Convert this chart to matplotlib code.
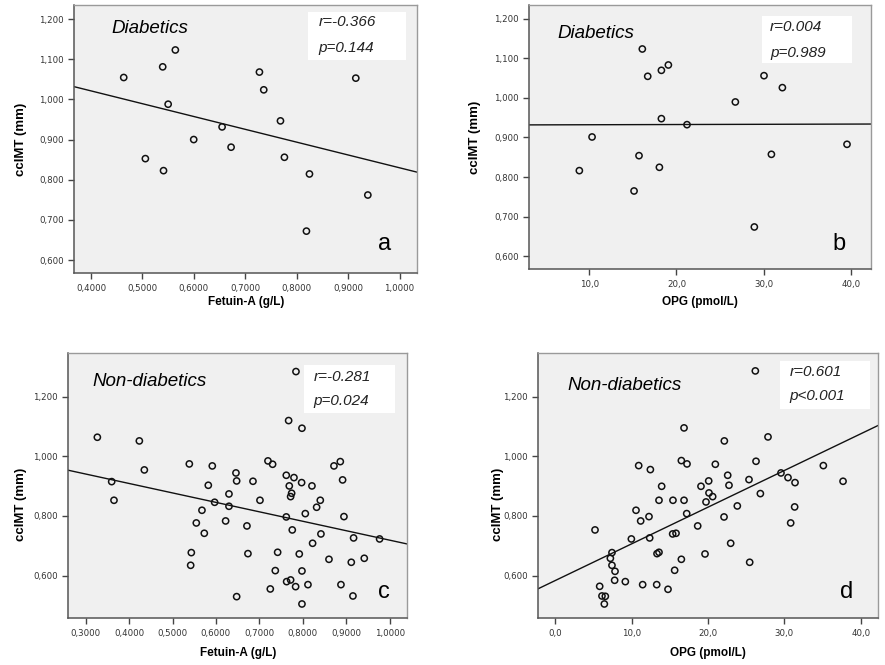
import numpy as np
import matplotlib
matplotlib.use("Agg")
import matplotlib.pyplot as plt
from matplotlib.ticker import FuncFormatter
from matplotlib.patches import Rectangle

# ---------------- data ----------------
# Panel a: Diabetics, Fetuin-A vs ccIMT
fet_dm = [0.4636, 0.5394, 0.5640, 0.5500, 0.5057, 0.5410, 0.5997, 0.6549, 0.6724,
          0.7275, 0.7359, 0.7684, 0.7761, 0.8248, 0.8189, 0.9149, 0.9383]
imt_dm_a = [1.0545, 1.0810, 1.1230, 0.9880, 0.8525, 0.8226, 0.9000, 0.9315, 0.8810,
            1.0680, 1.0238, 0.9465, 0.8559, 0.8143, 0.6720, 1.0529, 0.7619]

# Panel b: Diabetics, OPG vs ccIMT
opg_dm = [16.08, 19.07, 18.27, 16.70, 30.05, 32.16, 26.76, 18.27, 21.21,
          10.31, 39.58, 15.70, 30.90, 8.85, 18.04, 15.13, 28.94]
imt_dm_b = [1.1234, 1.0830, 1.0695, 1.0544, 1.0560, 1.0258, 0.9896, 0.9475, 0.9323,
            0.9012, 0.8827, 0.8540, 0.8574, 0.8162, 0.8246, 0.7648, 0.6739]

# Panel c: Non-diabetics, Fetuin-A vs ccIMT
fet_nd = [0.3269, 0.3599, 0.3652, 0.4236, 0.4351, 0.5387, 0.5433, 0.5418, 0.5916, 0.5824,
          0.5970, 0.5678, 0.5548, 0.5732, 0.6223, 0.6300, 0.6300, 0.6461, 0.6477, 0.6477,
          0.6714, 0.6737, 0.6853, 0.7014, 0.7198, 0.7305, 0.7252, 0.7367, 0.7421, 0.7620,
          0.7797, 0.7689, 0.7743, 0.7720, 0.7620, 0.7758, 0.7674, 0.7981, 0.7843, 0.7973,
          0.8211, 0.8058, 0.8319, 0.8403, 0.8418, 0.8226, 0.7919, 0.7981, 0.7628, 0.7720,
          0.7835, 0.8119, 0.7981, 0.8603, 0.8718, 0.8864, 0.8917, 0.8948, 0.9170, 0.9117,
          0.9416, 0.8879, 0.9155, 0.9769]
imt_nd_c = [1.0637, 0.9150, 0.8525, 1.0514, 0.9542, 0.9743, 0.6771, 0.6346, 0.9676, 0.9028,
            0.8458, 0.8190, 0.7765, 0.7419, 0.7832, 0.8737, 0.8324, 0.9441, 0.9173, 0.5296,
            0.7665, 0.6737, 0.9162, 0.8525, 0.9844, 0.9732, 0.5553, 0.6168, 0.6782, 0.9363,
            0.9285, 0.9006, 0.8760, 0.8648, 0.7967, 0.7531, 1.1196, 1.0939, 1.2838, 0.9117,
            0.9006, 0.8078, 0.8291, 0.8525, 0.7397, 0.7084, 0.6726, 0.6156, 0.5799, 0.5855,
            0.5631, 0.5698, 0.5050, 0.6547, 0.9676, 0.9821, 0.9207, 0.7978, 0.7263, 0.6447,
            0.6581, 0.5698, 0.5318, 0.7229]

# Panel d: Non-diabetics, OPG vs ccIMT
opg_nd = [26.20, 16.86, 22.14, 27.86, 16.51, 17.25, 10.92, 12.45, 20.96, 26.29,
          35.11, 37.69, 29.56, 30.48, 31.40, 25.37, 22.58, 22.75, 20.09, 19.08,
          13.93, 20.13, 20.61, 19.74, 16.86, 15.41, 13.58, 10.57, 11.18, 12.27,
          17.21, 23.84, 26.86, 31.35, 30.83, 22.10, 18.65, 5.20, 9.96, 12.36,
          15.37, 15.81, 7.42, 7.21, 7.42, 7.82, 7.77, 9.17, 5.81, 6.11,
          6.55, 6.42, 11.44, 13.28, 14.76, 13.58, 13.32, 15.63, 16.51, 19.61,
          22.97, 25.46]
imt_nd_d = [1.2860, 1.0950, 1.0514, 1.0648, 0.9855, 0.9743, 0.9687, 0.9553, 0.9732, 0.9832,
            0.9687, 0.9162, 0.9441, 0.9285, 0.9117, 0.9218, 0.9363, 0.9028, 0.9173, 0.8994,
            0.8994, 0.8771, 0.8648, 0.8469, 0.8525, 0.8525, 0.8525, 0.8190, 0.7832, 0.7978,
            0.8078, 0.8335, 0.8749, 0.8302, 0.7765, 0.7966, 0.7665, 0.7531, 0.7229, 0.7263,
            0.7397, 0.7419, 0.6771, 0.6581, 0.6346, 0.6145, 0.5844, 0.5799, 0.5642, 0.5318,
            0.5307, 0.5050, 0.5698, 0.5698, 0.5542, 0.6782, 0.6737, 0.6179, 0.6547, 0.6726,
            0.7084, 0.6447]

group_titles = ["Diabetics", "Diabetics", "Non-diabetics", "Non-diabetics"]
stats_r = ["r=-0.366", "r=0.004", "r=-0.281", "r=0.601"]
stats_p = ["p=0.144", "p=0.989", "p=0.024", "p<0.001"]
panel_letters = ["a", "b", "c", "d"]
x_labels = ["Fetuin-A (g/L)", "OPG (pmol/L)", "Fetuin-A (g/L)", "OPG (pmol/L)"]
y_label = "ccIMT (mm)"

xticks_fet_a = [0.4, 0.5, 0.6, 0.7, 0.8, 0.9, 1.0]
xticks_fet_c = [0.3, 0.4, 0.5, 0.6, 0.7, 0.8, 0.9, 1.0]
xticks_opg_b = [10, 20, 30, 40]
xticks_opg_d = [0, 10, 20, 30, 40]
yticks_dm = [0.6, 0.7, 0.8, 0.9, 1.0, 1.1, 1.2]
yticks_nd = [0.6, 0.8, 1.0, 1.2]

# ---------------- figure ----------------
W, H = 885, 665
fig = plt.figure(figsize=(W / 100, H / 100), dpi=100)
fig.patch.set_facecolor("white")

def frac_rect(l, t, r, b):
    return [l / W, 1 - b / H, (r - l) / W, (b - t) / H]

rects = [frac_rect(74.3, 5, 417.3, 273.3),
         frac_rect(529, 5, 870.7, 269.3),
         frac_rect(68.3, 353.3, 407.3, 618.3),
         frac_rect(538.3, 353.3, 877.7, 618.3)]

panels = [
    (fet_dm, imt_dm_a, (0.3675, 1.0345), (0.567, 1.235), xticks_fet_a, yticks_dm, "{:.4f}", "{:.3f}"),
    (opg_dm, imt_dm_b, (3.07, 42.3), (0.567, 1.2345), xticks_opg_b, yticks_dm, "{:.1f}", "{:.3f}"),
    (fet_nd, imt_nd_c, (0.26, 1.0407), (0.457, 1.345), xticks_fet_c, yticks_nd, "{:.4f}", "{:.3f}"),
    (opg_nd, imt_nd_d, (-2.23, 42.23), (0.457, 1.345), xticks_opg_d, yticks_nd, "{:.1f}", "{:.3f}"),
]

# text positions (axes fraction)
title_pos = [(0.107, 0.914), (0.082, 0.893), (0.071, 0.893), (0.085, 0.877)]
box_pos = [(0.682, 0.795, 0.968, 0.974), (0.682, 0.781, 0.945, 0.958),
           (0.695, 0.775, 0.964, 0.956), (0.712, 0.790, 0.977, 0.971)]
r_pos = [(0.712, 0.938), (0.705, 0.916), (0.723, 0.912), (0.741, 0.931)]
p_pos = [(0.712, 0.841), (0.705, 0.819), (0.723, 0.821), (0.741, 0.840)]
letter_pos = [(0.904, 0.087), (0.907, 0.073), (0.93, 0.077), (0.907, 0.077)]
ylabel_pos = [(-0.138, 0.5), (-0.141, 0.5), (-0.121, 0.43), (-0.101, 0.43)]
xlabel_pad = [2.5, 5.5, 7, 7]

SANS = ["Liberation Sans", "DejaVu Sans"]

for i, (rect, (xs, ys, xl, yl, xt, yt, xfmt, yfmt)) in enumerate(zip(rects, panels)):
    ax = fig.add_axes(rect)
    ax.set_facecolor("#f0f0f0")
    x = np.asarray(xs)
    y = np.asarray(ys)
    ax.scatter(x, y, s=20, facecolors="none", edgecolors="#111111", linewidths=1.1, zorder=3)
    slope, intercept = np.polyfit(x, y, 1)
    xx = np.array(xl)
    ax.plot(xx, intercept + slope * xx, color="#111111", lw=1.0, zorder=2)
    ax.set_xlim(*xl)
    ax.set_ylim(*yl)
    ax.set_xticks(xt)
    ax.set_yticks(yt)
    ax.xaxis.set_major_formatter(FuncFormatter(lambda v, p, f=xfmt: f.format(v).replace(".", ",")))
    ax.yaxis.set_major_formatter(FuncFormatter(lambda v, p, f=yfmt: f.format(v).replace(".", ",")))
    ax.tick_params(axis="both", direction="out", length=4.5, width=1.0, color="#444444",
                   labelsize=6.2, labelcolor="#333333", pad=3)
    for lab in ax.get_xticklabels() + ax.get_yticklabels():
        lab.set_family(["DejaVu Sans"])
    for side in ["left", "bottom"]:
        ax.spines[side].set_color("#555555")
        ax.spines[side].set_linewidth(1.1)
    for side in ["top", "right"]:
        ax.spines[side].set_color("#9a9a9a")
        ax.spines[side].set_linewidth(1.0)

    ax.set_xlabel(x_labels[i], fontsize=8.5, fontweight="bold", family=SANS, labelpad=xlabel_pad[i])
    ax.set_ylabel(y_label, fontsize=9.5, fontweight="bold", family=SANS)
    ax.yaxis.set_label_coords(*ylabel_pos[i])

    ax.text(title_pos[i][0], title_pos[i][1], group_titles[i], transform=ax.transAxes,
            fontsize=13.5, style="italic", family=SANS, ha="left", va="center", zorder=5)
    bx0, by0, bx1, by1 = box_pos[i]
    ax.add_patch(Rectangle((bx0, by0), bx1 - bx0, by1 - by0, transform=ax.transAxes,
                           facecolor="white", edgecolor="none", zorder=4))
    ax.text(r_pos[i][0], r_pos[i][1], stats_r[i], transform=ax.transAxes, fontsize=11,
            style="italic", family=SANS, color="#222222", ha="left", va="center", zorder=5)
    ax.text(p_pos[i][0], p_pos[i][1], stats_p[i], transform=ax.transAxes, fontsize=11,
            style="italic", family=SANS, color="#222222", ha="left", va="center", zorder=5)
    ax.text(letter_pos[i][0], letter_pos[i][1], panel_letters[i], transform=ax.transAxes,
            fontsize=17, family=SANS, ha="center", va="baseline", zorder=5)

fig.savefig("out.png", dpi=100, facecolor="white")
